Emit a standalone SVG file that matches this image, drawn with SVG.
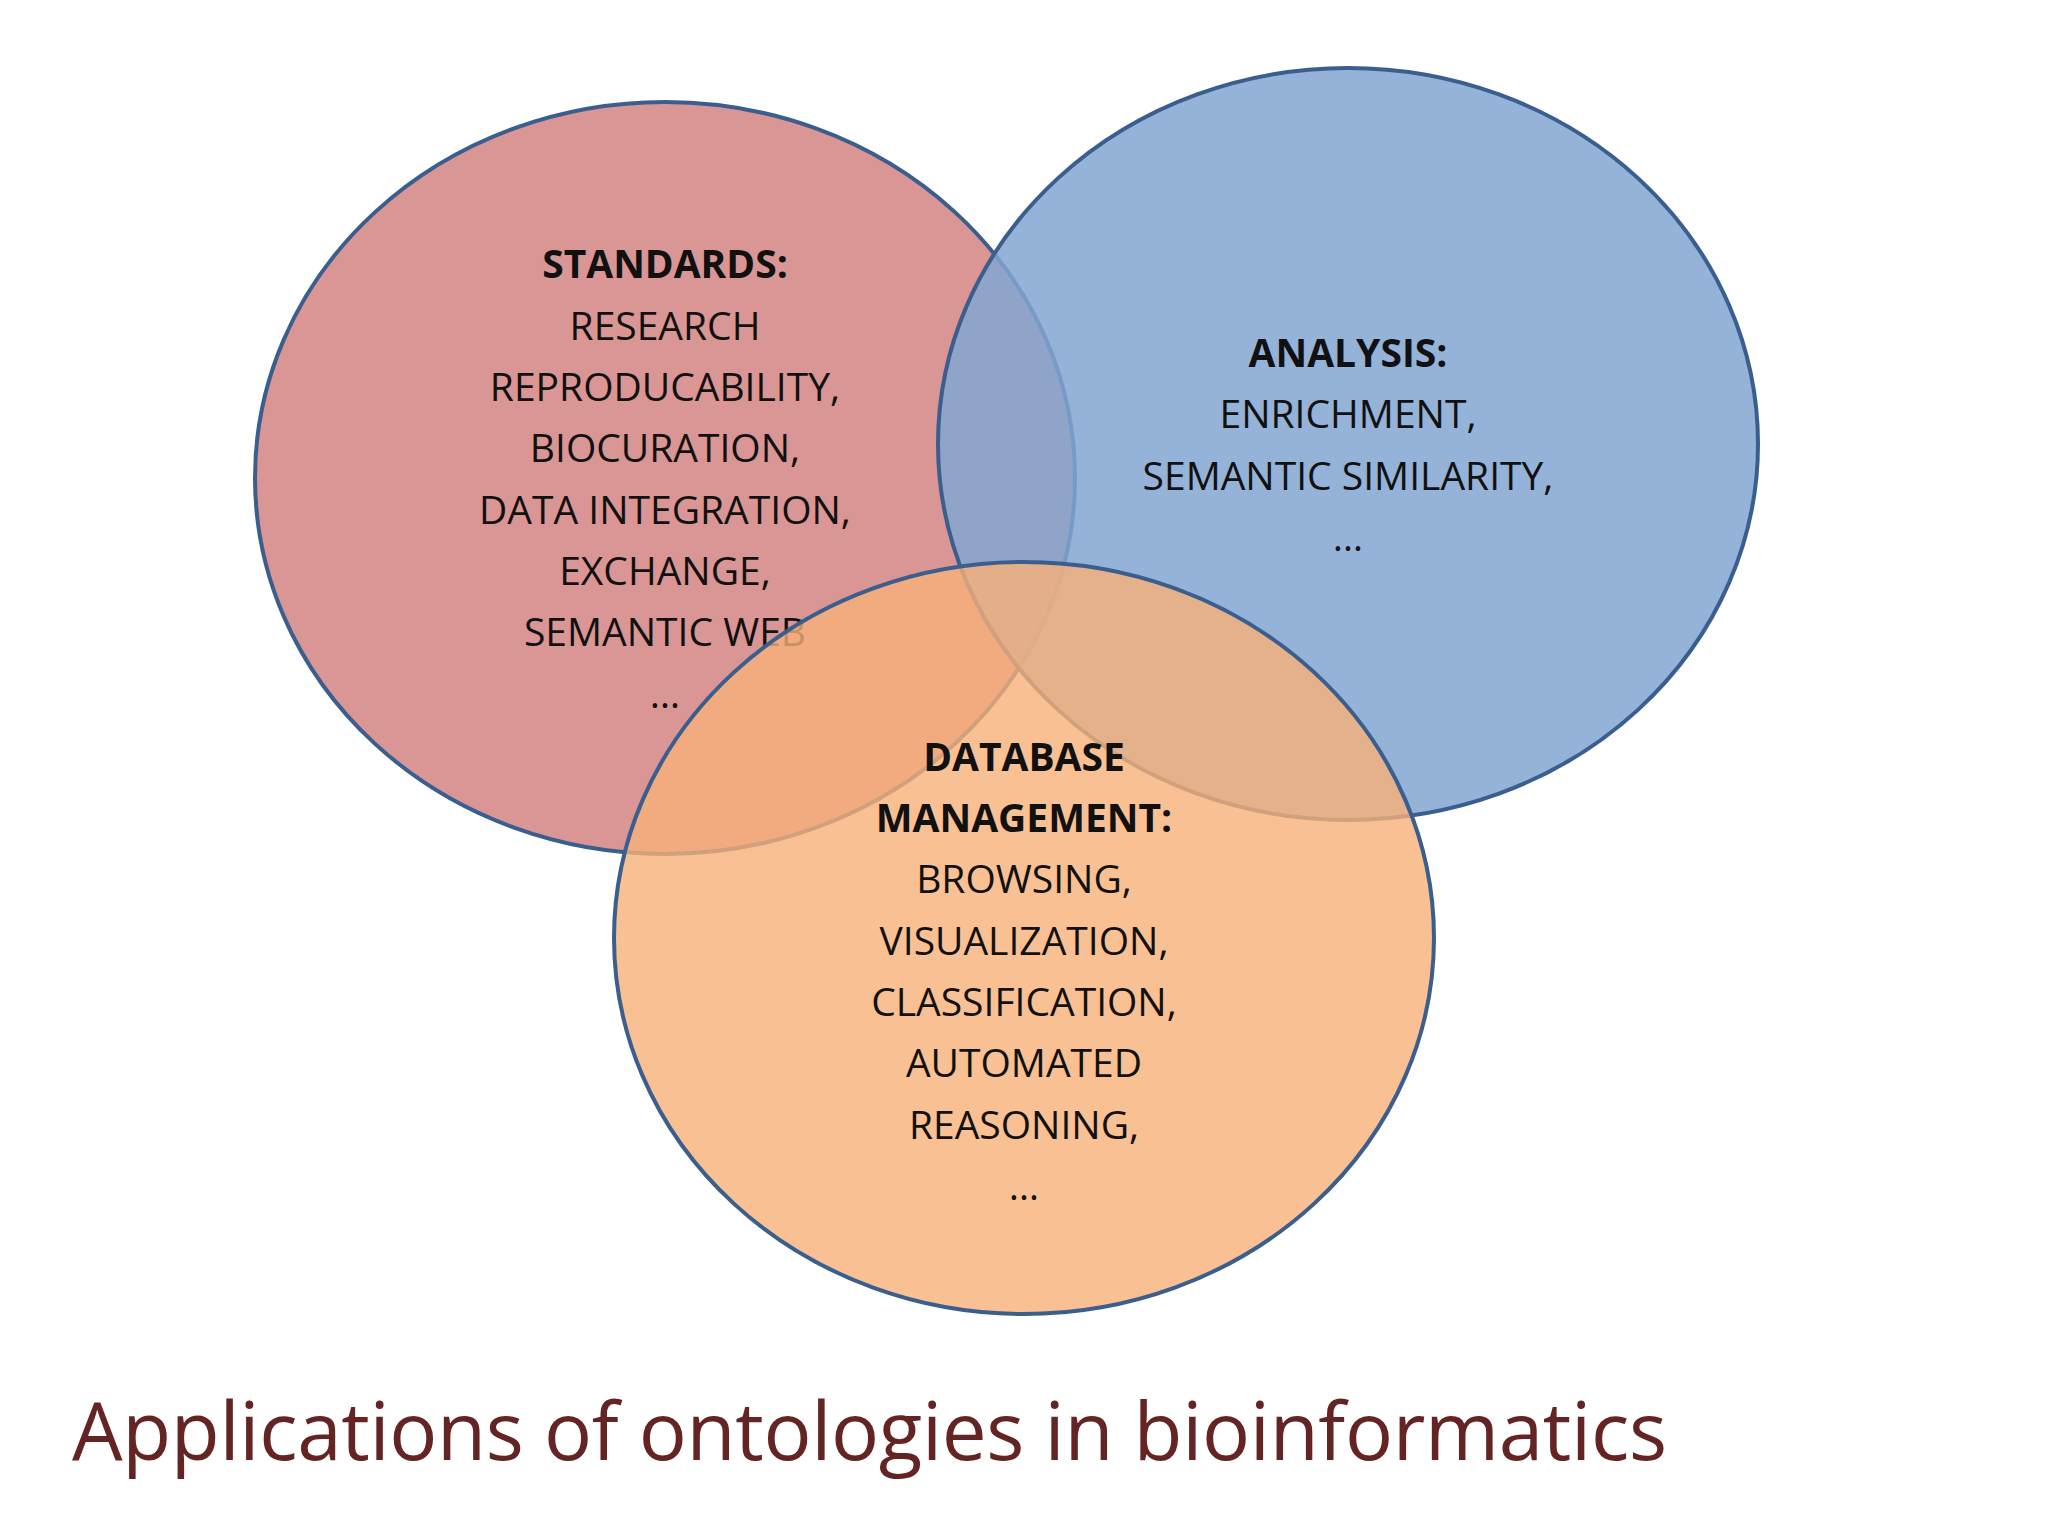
<svg xmlns="http://www.w3.org/2000/svg" width="2048" height="1536" viewBox="0 0 2048 1536">
<style>
.e{stroke:#3A5F8E;stroke-width:4}
.t{font-family:"Open Sans","Liberation Sans",sans-serif;font-size:39px;fill:#111;text-anchor:middle}
.b{font-weight:bold}
</style>
<rect width="2048" height="1536" fill="#fff"/>
<g id="standards">
<ellipse class="e" cx="665" cy="478" rx="410" ry="376" fill="#DA9694"/>
</g>
<g id="analysis">
<ellipse class="e" cx="1348" cy="444" rx="410" ry="376" fill="#83A6D1" fill-opacity="0.85"/>
</g>
<g id="standards-text">
<text class="t b" x="665" y="278">STANDARDS:</text>
<text class="t" x="665" y="340">RESEARCH</text>
<text class="t" x="665" y="401">REPRODUCABILITY,</text>
<text class="t" x="665" y="462">BIOCURATION,</text>
<text class="t" x="665" y="524">DATA INTEGRATION,</text>
<text class="t" x="665" y="585">EXCHANGE,</text>
<text class="t" x="665" y="646">SEMANTIC WEB</text>
<text class="t" x="665" y="708">…</text>
</g>
<g id="analysis-text">
<text class="t b" x="1348" y="367">ANALYSIS:</text>
<text class="t" x="1348" y="428">ENRICHMENT,</text>
<text class="t" x="1348" y="490">SEMANTIC SIMILARITY,</text>
<text class="t" x="1348" y="551">…</text>
</g>
<g id="database">
<ellipse class="e" cx="1024" cy="938" rx="410" ry="376" fill="#F7B078" fill-opacity="0.8"/>
<text class="t b" x="1024" y="771">DATABASE</text>
<text class="t b" x="1024" y="832">MANAGEMENT:</text>
<text class="t" x="1024" y="893">BROWSING,</text>
<text class="t" x="1024" y="955">VISUALIZATION,</text>
<text class="t" x="1024" y="1016">CLASSIFICATION,</text>
<text class="t" x="1024" y="1077">AUTOMATED</text>
<text class="t" x="1024" y="1139">REASONING,</text>
<text class="t" x="1024" y="1200">…</text>
</g>
<g id="connectors"/>
<text x="72" y="1460" font-family="'Open Sans','Liberation Sans',sans-serif" font-size="80" fill="#632423" textLength="1595">Applications of ontologies in bioinformatics</text>
</svg>
